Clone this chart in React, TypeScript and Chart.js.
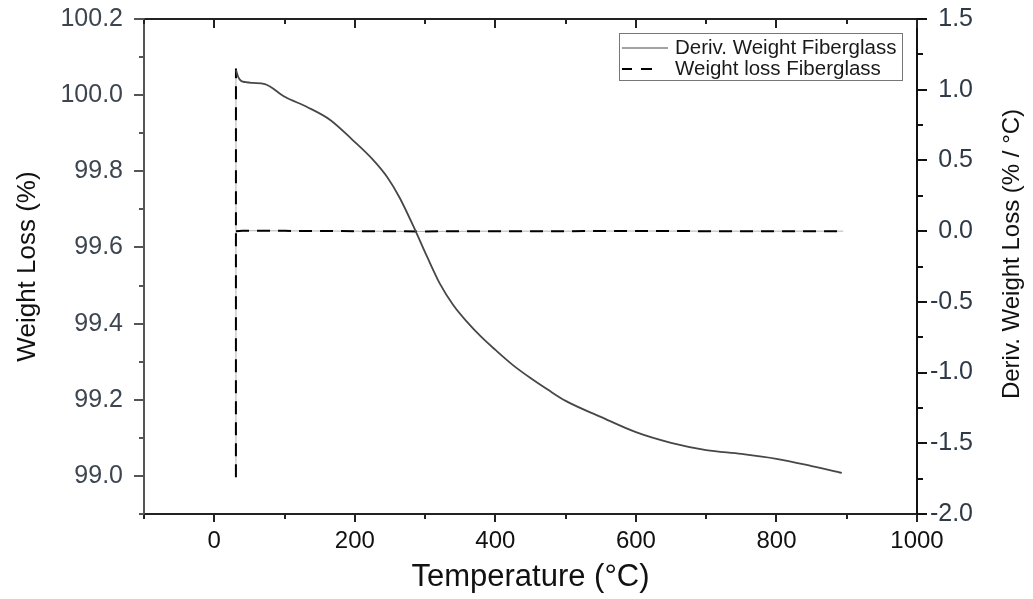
import React, { useEffect, useRef } from 'react';
import { Chart, registerables } from 'chart.js';

Chart.register(...registerables);

// ---- data ----
const temperatureWeight = [31, 34, 38, 45, 55, 72, 101, 132, 165, 197, 226, 246, 264, 287, 303, 321, 340, 360, 380, 400, 425, 450, 475, 500, 550, 600, 650, 700, 750, 800, 850, 893];
const weightCurve = [100.066, 100.048, 100.038, 100.034, 100.032, 100.029, 99.995, 99.969, 99.935, 99.882, 99.83, 99.785, 99.73, 99.641, 99.575, 99.505, 99.449, 99.404, 99.365, 99.331, 99.291, 99.257, 99.226, 99.197, 99.155, 99.115, 99.087, 99.068, 99.058, 99.045, 99.026, 99.008];

// null marks a break in the recorded trace
const temperatureDeriv = [30.8, 30.85, 30.9, 31.0, 40, 100, 200, 300, 400, 500, 600, 700, 800, 895];
const derivCurve = [-1.74, 1.15, null, 0.0, 0.003, 0.002, 0.0, -0.002, 0.0, 0.0, 0.001, 0.0, 0.0, 0.0];

const xMajorTicks = [0, 200, 400, 600, 800, 1000];
const xMinorTicks = [-100, 100, 300, 500, 700, 900];
const leftMajorTicks = [99.0, 99.2, 99.4, 99.6, 99.8, 100.0, 100.2];
const leftMinorTicks = [98.9, 99.1, 99.3, 99.5, 99.7, 99.9, 100.1];
const rightMajorTicks = [-2.0, -1.5, -1.0, -0.5, 0.0, 0.5, 1.0, 1.5];
const rightMinorTicks = [-1.75, -1.25, -0.75, -0.25, 0.25, 0.75, 1.25];

const seriesLabels = ['Deriv. Weight Fiberglass', 'Weight loss Fiberglass'];
const xTitle = 'Temperature (°C)';
const leftTitle = 'Weight Loss (%)';
const rightTitle = 'Deriv. Weight Loss (% / °C)';

const FONT = '"Liberation Sans", Arial, sans-serif';

const framePlugin = {
  id: 'frameTicks',
  afterDatasetsDraw(chart: any) {
    const { ctx, chartArea: a, scales } = chart;
    const sx = scales.x, sy = scales.y, sr = scales.y1;
    ctx.save();
    const seg = (x1: number, y1: number, x2: number, y2: number, color: string, w: number) => {
      ctx.beginPath();
      ctx.strokeStyle = color;
      ctx.lineWidth = w;
      ctx.moveTo(x1, y1);
      ctx.lineTo(x2, y2);
      ctx.stroke();
    };
    // frame
    seg(a.left, a.top, a.right, a.top, '#222', 2);
    seg(a.left, a.bottom, a.right + 1, a.bottom, '#222', 2);
    seg(a.left, a.top - 1, a.left, a.bottom + 1, '#555', 2);
    seg(a.right, a.top - 1, a.right, a.bottom + 1, '#111', 2);
    // x ticks (bottom outward, top inward)
    xMajorTicks.forEach((v) => {
      const p = Math.round(sx.getPixelForValue(v));
      seg(p, a.bottom, p, a.bottom + 8, '#222', 2);
      seg(p, a.top, p, a.top + 9, '#222', 2);
    });
    xMinorTicks.forEach((v) => {
      const p = Math.round(sx.getPixelForValue(v));
      seg(p, a.bottom, p, a.bottom + 5, '#222', 2);
      seg(p, a.top, p, a.top + 5, '#222', 2);
    });
    leftMajorTicks.forEach((v) => {
      const p = Math.round(sy.getPixelForValue(v));
      seg(a.left - 10, p, a.left, p, '#555', 2);
    });
    leftMinorTicks.forEach((v) => {
      const p = Math.round(sy.getPixelForValue(v));
      seg(a.left - 5, p, a.left, p, '#555', 2);
    });
    rightMajorTicks.forEach((v) => {
      const p = Math.round(sr.getPixelForValue(v));
      seg(a.right, p, a.right + 10, p, '#111', 2);
    });
    rightMinorTicks.forEach((v) => {
      const p = Math.round(sr.getPixelForValue(v));
      seg(a.right, p, a.right + 6, p, '#111', 2);
    });

    // right axis title (reads bottom to top)
    ctx.save();
    ctx.translate(1012, 254);
    ctx.rotate(-Math.PI / 2);
    ctx.fillStyle = '#111';
    ctx.font = `24px ${FONT}`;
    ctx.textAlign = 'center';
    ctx.textBaseline = 'middle';
    ctx.fillText(rightTitle, 0, 0);
    ctx.restore();

    // legend box
    const bx = 619.5, by = 33.5, bw = 283, bh = 47;
    ctx.fillStyle = '#fff';
    ctx.fillRect(bx, by, bw, bh);
    ctx.strokeStyle = '#777';
    ctx.lineWidth = 1;
    ctx.strokeRect(bx, by, bw, bh);
    const ds = chart.data.datasets;
    seg(622, 48, 668, 48, ds[0].borderColor, 1);
    ctx.setLineDash([]);
    seg(622, 69, 632, 69, '#000', 2);
    seg(641, 69, 652, 69, '#000', 2);
    ctx.fillStyle = '#1a1a1a';
    ctx.font = `20.5px ${FONT}`;
    ctx.textAlign = 'left';
    ctx.textBaseline = 'middle';
    ctx.fillText(ds[0].label, 675, 48);
    ctx.fillText(ds[1].label, 675, 69);
    ctx.restore();
  },
};

export default function App() {
  const ref = useRef<HTMLCanvasElement>(null);
  useEffect(() => {
    const weightPoints = temperatureWeight.map((t, i) => ({ x: t, y: weightCurve[i] }));
    const derivPoints = temperatureDeriv.map((t, i) => ({ x: t, y: derivCurve[i] }));
    const chart = new Chart(ref.current as HTMLCanvasElement, {
      type: 'line',
      data: {
        datasets: [
          {
            label: seriesLabels[0],
            data: weightPoints,
            yAxisID: 'y',
            borderColor: '#474747',
            borderWidth: 1.8,
            pointRadius: 0,
            cubicInterpolationMode: 'monotone',
            fill: false,
          },
          {
            label: seriesLabels[1],
            data: derivPoints,
            yAxisID: 'y1',
            borderColor: '#000',
            borderWidth: 2,
            borderDash: [13, 8],
            pointRadius: 0,
            tension: 0,
            spanGaps: false,
            fill: false,
          },
          {
            label: '',
            data: derivPoints,
            yAxisID: 'y1',
            borderColor: '#b5b5b5',
            borderWidth: 1,
            pointRadius: 0,
            tension: 0,
            spanGaps: false,
            fill: false,
          },
        ],
      },
      options: {
        responsive: true,
        maintainAspectRatio: false,
        animation: false,
        layout: { padding: { top: 19, right: 60, left: 0, bottom: 0 } },
        plugins: { legend: { display: false }, tooltip: { enabled: false } },
        scales: {
          x: {
            type: 'linear',
            position: 'bottom',
            min: -100,
            max: 1000,
            afterBuildTicks: (s: any) => { s.ticks = xMajorTicks.map((v) => ({ value: v })); },
            afterFit: (s: any) => { s.height = 85; s.paddingLeft = 0; s.paddingRight = 0; },
            grid: { display: false, drawTicks: false },
            border: { display: false },
            ticks: { font: { family: FONT, size: 24 }, color: '#111', padding: 13, maxRotation: 0, callback: (v: any) => String(v) },
            title: { display: true, text: xTitle, font: { family: FONT, size: 31 }, color: '#111', padding: { top: 0, bottom: 3 } },
          },
          y: {
            type: 'linear',
            position: 'left',
            min: 98.9,
            max: 100.2,
            afterBuildTicks: (s: any) => { s.ticks = leftMajorTicks.map((v) => ({ value: v })); },
            afterFit: (s: any) => { s.width = 144; s.paddingTop = 0; s.paddingBottom = 0; },
            grid: { display: false, drawTicks: false },
            border: { display: false },
            ticks: { font: { family: FONT, size: 25 }, color: '#3d4650', padding: 21, callback: (v: any) => Number(v).toFixed(1) },
            title: { display: true, text: leftTitle, font: { family: FONT, size: 26 }, color: '#111', padding: { top: 12, bottom: 0 } },
          },
          y1: {
            type: 'linear',
            position: 'right',
            min: -2.0,
            max: 1.5,
            afterBuildTicks: (s: any) => { s.ticks = rightMajorTicks.map((v) => ({ value: v })); },
            afterFit: (s: any) => { s.width = 56; s.paddingTop = 0; s.paddingBottom = 0; },
            grid: { display: false, drawTicks: false },
            border: { display: false },
            ticks: { font: { family: FONT, size: 25 }, color: '#2e3a47', padding: 20, crossAlign: 'far', callback: (v: any) => Number(v).toFixed(1) },
            title: { display: false },
          },
        },
      },
      plugins: [framePlugin],
    } as any);
    return () => chart.destroy();
  }, []);
  return (
    <div style={{ position: 'absolute', left: 0, top: 0, width: 1033, height: 599, background: '#fff' }}>
      <canvas ref={ref} />
    </div>
  );
}
